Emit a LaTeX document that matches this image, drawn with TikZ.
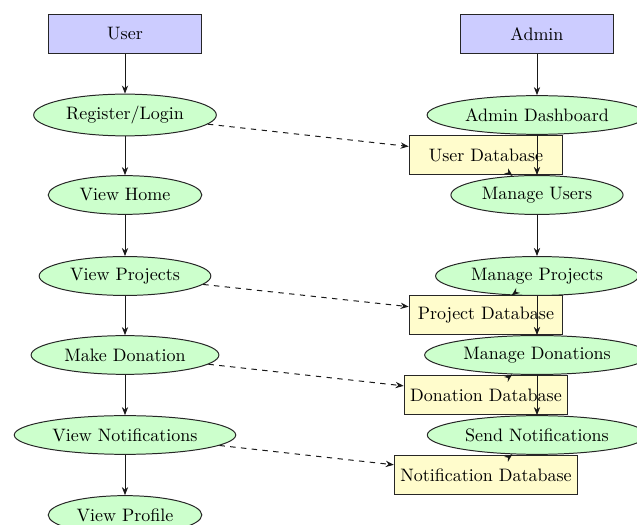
\documentclass[tikz,border=0pt]{standalone}
\usetikzlibrary{shapes.geometric,arrows.meta}
\begin{document}
\begin{tikzpicture}[x=0.5556pt,y=-0.5556pt,line width=0.55pt,
  actor/.style={rectangle,draw=black!85,fill=blue!20,minimum width=3cm,minimum height=22pt},
  proc/.style={ellipse,draw=black!85,fill=green!20,minimum width=3cm,minimum height=21.5pt,inner sep=3.2pt},
  dbbox/.style={rectangle,draw=black!85,fill=yellow!20,minimum width=3cm,minimum height=22pt},
  flow/.style={draw=black!90,-{Stealth[length=4.5pt,width=3.5pt]}},
  link/.style={draw=black!90,dashed,-{Stealth[length=4.5pt,width=3.5pt]}}]
\clip (0,0) rectangle (637,525);
\fill[white] (0,0) rectangle (637,525);
% user column
\node[actor] (user) at (125,34) {User};
\node[proc] (reg) at (125,115) {Register/Login};
\node[proc] (home) at (125,195) {View Home};
\node[proc] (vproj) at (125,276) {View Projects};
\node[proc] (don) at (125,355) {Make Donation};
\node[proc] (vnot) at (125,435) {View Notifications};
\node[proc] (prof) at (125,515) {View Profile};
% admin column
\node[actor] (admin) at (537,34) {Admin};
\node[proc] (dash) at (537,115) {Admin Dashboard};
\node[proc] (musers) at (537,195) {Manage Users};
\node[proc] (mproj) at (537,276) {Manage Projects};
\node[proc] (mdon) at (537,355) {Manage Donations};
\node[proc] (snot) at (537,435) {Send Notifications};
% databases
\node[dbbox] (udb) at (486,155) {User Database};
\node[dbbox] (pdb) at (486,315) {Project Database};
\node[dbbox] (ddb) at (486,395) {Donation Database};
\node[dbbox] (ndb) at (486,475) {Notification Database};
% user flow
\draw[flow] (user) -- (reg);
\draw[flow] (reg) -- (home);
\draw[flow] (home) -- (vproj);
\draw[flow] (vproj) -- (don);
\draw[flow] (don) -- (vnot);
\draw[flow] (vnot) -- (prof);
% admin flow
\draw[flow] (admin) -- (dash);
\draw[flow] (dash) -- (musers);
\draw[flow] (musers) -- (mproj);
\draw[flow] (mproj) -- (mdon);
\draw[flow] (mdon) -- (snot);
% user to databases
\draw[link] (reg) -- (udb);
\draw[link] (vproj) -- (pdb);
\draw[link] (don) -- (ddb);
\draw[link] (vnot) -- (ndb);
% databases to admin
\draw[flow] (udb) -- (musers);
\draw[flow] (pdb) -- (mproj);
\draw[flow] (ddb) -- (mdon);
\draw[flow] (ndb) -- (snot);
\end{tikzpicture}
\end{document}
